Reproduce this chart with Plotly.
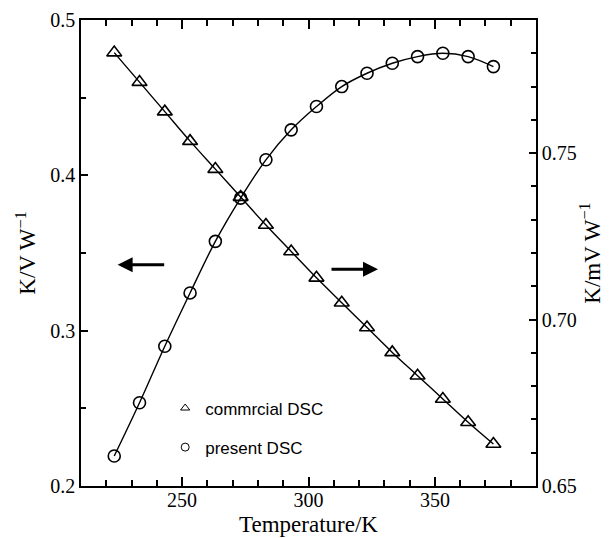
import plotly.graph_objects as go

# Temperatures (K) of the calibration points, -50 °C to 100 °C in 10 K steps
temperature = [223.15, 233.15, 243.15, 253.15, 263.15, 273.15, 283.15, 293.15,
               303.15, 313.15, 323.15, 333.15, 343.15, 353.15, 363.15, 373.15]

# Sensitivity of the commercial DSC (K/V W^-1, left axis)
commercial = [0.479, 0.460, 0.441, 0.422, 0.404, 0.386, 0.368, 0.351,
              0.334, 0.318, 0.302, 0.286, 0.271, 0.256, 0.241, 0.227]

# Sensitivity of the present DSC (K/mV W^-1, right axis)
present = [0.659, 0.675, 0.692, 0.708, 0.7235, 0.7365, 0.748, 0.757,
           0.764, 0.770, 0.774, 0.777, 0.779, 0.780, 0.779, 0.776]

legend_names = ["commrcial DSC", "present DSC"]

serif = "Liberation Serif, Times New Roman, serif"
black = "black"
tick_font = dict(family=serif, size=20, color=black)
title_font = dict(family=serif, size=23, color=black)

fig = go.Figure()

fig.add_trace(go.Scatter(
    x=temperature, y=commercial, mode="lines+markers", showlegend=False,
    line=dict(color=black, width=1.4, shape="spline"),
    marker=dict(symbol="triangle-up-open", size=13, color=black,
                line=dict(width=1.6, color=black)),
    yaxis="y"))

fig.add_trace(go.Scatter(
    x=temperature, y=present, mode="lines+markers", showlegend=False,
    line=dict(color=black, width=1.4, shape="spline"),
    marker=dict(symbol="circle-open", size=12, color=black,
                line=dict(width=1.6, color=black)),
    yaxis="y2"))

# Legend entries (marker only)
fig.add_trace(go.Scatter(
    x=[None], y=[None], mode="markers", name=legend_names[0], legendgroup="a",
    marker=dict(symbol="triangle-up-open", size=8, color=black,
                line=dict(width=1, color=black))))
fig.add_trace(go.Scatter(
    x=[None], y=[None], mode="markers", name=legend_names[1], legendgroup="b",
    marker=dict(symbol="circle-open", size=8, color=black,
                line=dict(width=1, color=black))))

# Direction arrows pointing to each curve's axis
arrow = dict(showarrow=True, arrowhead=2, arrowsize=1.0, arrowwidth=3,
             arrowcolor=black, text="", axref="x", ayref="y", xref="x", yref="y")
fig.add_annotation(x=224.5, y=0.3425, ax=243.5, ay=0.3425, **arrow)
fig.add_annotation(x=327.5, y=0.3395, ax=308.5, ay=0.3395, **arrow)

fig.update_layout(
    width=609, height=538,
    margin=dict(l=81, r=73, t=20, b=52, autoexpand=False),
    paper_bgcolor="white", plot_bgcolor="white",
    font=dict(family=serif, size=20, color=black),
    showlegend=True,
    legend=dict(x=0.185, y=0.205, xanchor="left", yanchor="top",
                font=dict(family="Liberation Sans", size=17, color=black),
                bgcolor="rgba(0,0,0,0)", tracegroupgap=14,
                traceorder="grouped", itemwidth=30),
    xaxis=dict(range=[210, 390], tickvals=[250, 300, 350], automargin=False,
               ticks="inside", ticklen=9, tickwidth=1.5, tickcolor=black,
               ticklabelstandoff=-5,
               showline=True, linecolor=black, linewidth=1.5, mirror="ticks",
               showgrid=False, zeroline=False,
               minor=dict(dtick=10, tick0=210, ticks="inside", ticklen=6,
                          tickwidth=1.5, tickcolor=black, showgrid=False),
               title=dict(text="Temperature/K", font=title_font, standoff=6),
               tickfont=tick_font),
    yaxis=dict(range=[0.2, 0.5], tickvals=[0.2, 0.3, 0.4, 0.5],
               ticktext=["0.2", "0.3", "0.4", "0.5"], automargin=True,
               ticks="inside", ticklen=7, tickwidth=1.5, tickcolor=black,
               showline=True, linecolor=black, linewidth=1.5,
               showgrid=False, zeroline=False,
               minor=dict(dtick=0.05, tick0=0.2, ticks="inside", ticklen=5,
                          tickwidth=1.5, tickcolor=black, showgrid=False),
               title=dict(text="K/V W<sup>−1</sup>", font=title_font, standoff=8),
               tickfont=tick_font),
    yaxis2=dict(range=[0.65, 0.79], tickvals=[0.65, 0.70, 0.75],
                ticktext=["0.65", "0.70", "0.75"], automargin=True,
                overlaying="y", side="right",
                ticks="inside", ticklen=7, tickwidth=1.5, tickcolor=black,
                showline=True, linecolor=black, linewidth=1.5,
                showgrid=False, zeroline=False,
                minor=dict(dtick=0.01, tick0=0.65, ticks="inside", ticklen=5,
                           tickwidth=1.5, tickcolor=black, showgrid=False),
                title=dict(text="K/mV W<sup>−1</sup>", font=title_font, standoff=8),
                tickfont=tick_font),
)

fig.write_html("out.html")
